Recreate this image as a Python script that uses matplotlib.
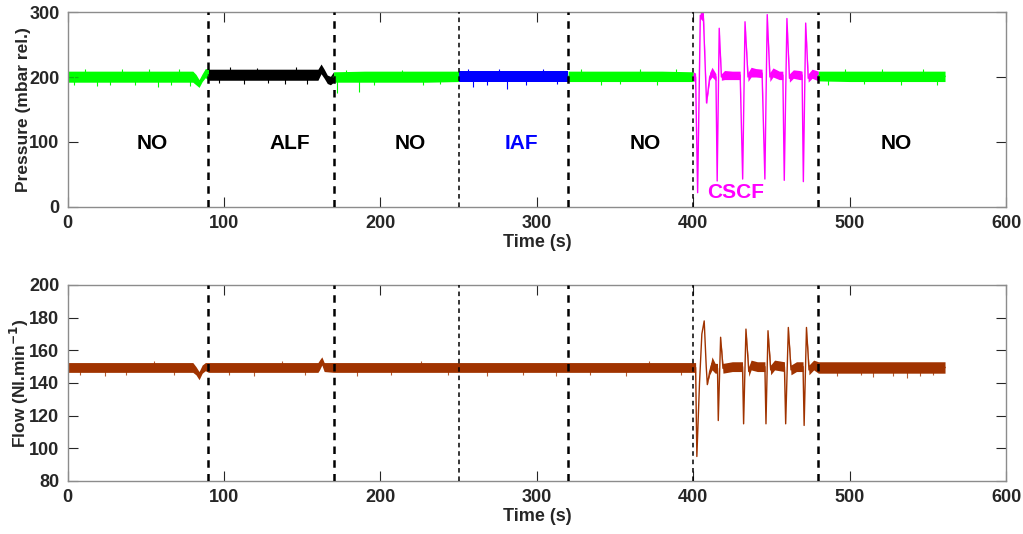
import numpy as np
import matplotlib.pyplot as plt

plt.rcParams['font.family'] = ['Liberation Sans', 'DejaVu Sans']
plt.rcParams['font.weight'] = 'bold'
plt.rcParams['mathtext.default'] = 'bf'

# phase boundaries (s), colours and labels
seg_edges = [0, 90, 170, 250, 320, 400, 480, 561]
seg_colors = ['#00ff00', '#000000', '#00ff00', '#0000ff', '#00ff00', '#ff00ff', '#00ff00']
seg_labels = ['NO', 'ALF', 'NO', 'IAF', 'NO', 'CSCF', 'NO']
label_t = [54, 142, 219, 290, 369, 427, 530]
label_y = [98, 98, 98, 98, 98, 22, 98]
dash_t = [90, 170, 250, 320, 400, 480]
dash_w = [1.8, 1.8, 1.1, 1.8, 1.1, 1.8]

# pressure (mbar rel.): time, mean trace, lower / upper edge of the noise band
t_p = [0, 20, 40, 60, 80, 82, 84, 86, 88,
       90, 110, 130, 150, 160, 162, 164, 166, 168,
       170, 190, 210, 230, 250, 270, 290, 310, 320, 340, 360, 380,
       400, 401.5, 402.8, 404.5, 406.5, 408.5, 410.5, 412, 414.5, 415.3, 416.6, 418, 420, 425, 430,
       431.6, 433.1, 435, 437, 440, 444, 445.8, 447.3, 449, 451, 455, 457.3, 458.2, 459.9,
       461.5, 464, 468, 469.6, 470.4, 471.9, 473.5, 476,
       480, 500, 520, 540, 561]
p_mid = [200, 200, 200, 200, 200, 197, 190, 198, 205,
         203, 203, 203, 203, 203, 212, 205, 196, 194,
         200, 200, 200, 200, 201, 201, 201, 201, 201, 201, 201, 201,
         201, 200, 22, 295, 290, 160, 200, 208, 200, 40, 275, 200, 203, 203, 203,
         43, 285, 200, 208, 207, 206, 43, 296, 200, 208, 203, 203, 41, 290,
         198, 205, 203, 203, 39, 283, 198, 205,
         202, 201, 201, 201, 201]
p_lo = [192, 192, 192, 192, 192, 188, 184, 193, 199,
        195, 195, 195, 195, 195, 205, 198, 190, 188,
        192, 192, 192, 192, 193, 193, 193, 193, 193, 193, 193, 193,
        193, 195, 22, 290, 285, 158, 195, 200, 194, 40, 275, 195, 196, 196, 196,
        43, 285, 193, 200, 200, 199, 43, 296, 193, 200, 196, 196, 41, 290,
        192, 198, 196, 196, 39, 283, 192, 198,
        194, 193, 193, 193, 193]
p_hi = [209, 209, 209, 209, 209, 204, 196, 205, 213,
        212, 212, 212, 212, 212, 220, 212, 203, 201,
        208, 209, 209, 209, 209, 209, 209, 209, 209, 209, 209, 209,
        208, 206, 22, 300, 300, 162, 207, 215, 205, 40, 275, 205, 210, 209, 209,
        43, 285, 207, 215, 213, 212, 43, 296, 207, 214, 209, 209, 41, 290,
        205, 211, 210, 209, 39, 283, 205, 212,
        209, 209, 209, 209, 209]
# isolated noise spikes seen outside the band
p_spk_t = [4, 11, 19, 27, 35, 43, 52, 58, 66, 71, 78, 97, 104, 113, 121, 128, 139, 146, 153, 172, 178,
           186, 196, 214, 227, 238, 256, 259, 268, 276, 281, 293, 304, 313, 328, 341, 353, 366, 377, 389,
           486, 497, 509, 521, 533, 547, 556]
p_spk_v = [187, 212, 186, 188, 213, 187, 212, 185, 188, 212, 186, 191, 215, 190, 214, 191, 189, 215, 190, 176, 211,
           177, 188, 211, 187, 189, 212, 184, 188, 213, 181, 188, 212, 189, 212, 188, 190, 213, 188, 212,
           188, 212, 189, 213, 187, 212, 188]

# flow (Nl/min): time, mean trace, lower / upper edge of the noise band
t_f = [0, 20, 40, 60, 80, 82, 84, 86, 88,
       90, 110, 130, 150, 160, 161, 162.5, 164,
       170, 190, 210, 230, 250, 270, 290, 310, 330, 350, 370, 390,
       400, 401.5, 402.3, 404, 405.5, 407, 408.3, 409, 410.5, 412, 414, 415.5, 416, 417.5, 419, 425,
       431.5, 432.2, 433.7, 435.5, 437, 441, 445.8, 446.5, 447.8, 449.5, 452, 458.3, 459.1, 460.8,
       462.5, 466, 470.2, 470.9, 472.4, 474, 477,
       480, 500, 520, 540, 561]
f_mid = [149.5, 149.5, 149.5, 149.5, 149.5, 147.5, 144, 148, 150,
         149.5, 149.5, 149.5, 149.5, 149.5, 151, 154, 150,
         149.5, 149.5, 149.5, 149.5, 149.5, 149.5, 149.5, 149.5, 149.5, 149.5, 149.5, 149.5,
         149.5, 149.5, 95, 140, 170, 178, 150, 139, 147, 152, 149, 149, 117, 168, 149, 150,
         150, 115, 173, 147, 151, 150, 150, 115, 172, 148, 151, 150, 115, 174,
         148, 150, 150, 114, 174, 148, 151,
         150, 149.5, 149.5, 149.5, 149.5]
f_lo = [146.5, 146.5, 146.5, 146.5, 146.5, 145, 142, 146, 147.5,
        146.5, 146.5, 146.5, 146.5, 146.5, 148, 151, 147,
        146.5, 146.5, 146.5, 146.5, 146.5, 146.5, 146.5, 146.5, 146.5, 146.5, 146.5, 146.5,
        146.5, 146.5, 95, 140, 170, 178, 150, 139, 145, 148, 146, 146, 117, 168, 146, 147,
        147, 115, 173, 144, 148, 147, 147, 115, 172, 145, 148, 147, 115, 174,
        145, 147, 147, 114, 174, 145, 148,
        146, 146, 146, 146, 146]
f_hi = [152.5, 152.5, 152.5, 152.5, 152.5, 150, 147, 151, 152.5,
        152.5, 152.5, 152.5, 152.5, 152.5, 154, 156, 152.5,
        152.5, 152.5, 152.5, 152.5, 152.5, 152.5, 152.5, 152.5, 152.5, 152.5, 152.5, 152.5,
        152.5, 152.5, 95, 140, 170, 178, 150, 139, 149, 156, 152, 152, 117, 168, 152, 153,
        153, 115, 173, 150, 154, 153, 153, 115, 172, 151, 154, 153, 115, 174,
        151, 153, 153, 114, 174, 151, 154,
        153, 153, 153, 153, 153]
f_spk_t = [8, 24, 37, 55, 68, 103, 119, 137, 152, 185, 207, 226, 243, 268, 291, 312, 334, 357, 372, 392,
           492, 507, 515, 528, 537, 545, 553]
f_spk_v = [145, 144.5, 145, 153.5, 145, 145, 144.5, 153.5, 145, 144.5, 145, 153.5, 145, 144.5, 145, 144.5,
           145, 144.5, 153.5, 145, 144.5, 145, 143.5, 144, 143, 144.5, 145]
flow_color = '#a03300'

txt = '#262626'
fig = plt.figure(figsize=(10.23, 5.34), dpi=100)
ax1 = fig.add_axes([0.0662, 0.6124, 0.9172, 0.3651])
ax2 = fig.add_axes([0.0662, 0.0993, 0.9172, 0.3670])

tp = np.array(t_p)
for a, b, c in zip(seg_edges[:-1], seg_edges[1:], seg_colors):
    m = (tp >= a) & (tp <= b)
    ax1.fill_between(tp[m], np.array(p_lo)[m], np.array(p_hi)[m], color=c, lw=0)
    ax1.plot(tp[m], np.array(p_mid)[m], color=c, lw=1)
for x, v in zip(p_spk_t, p_spk_v):
    c = seg_colors[np.searchsorted(seg_edges, x) - 1]
    ax1.vlines(x, 201, v, color=c, lw=0.8)

tf = np.array(t_f)
ax2.fill_between(tf, f_lo, f_hi, color=flow_color, lw=0)
ax2.plot(tf, f_mid, color=flow_color, lw=1)
ax2.vlines(f_spk_t, 149.5, f_spk_v, color=flow_color, lw=0.8, alpha=0.8)

for lab, x, y, c in zip(seg_labels, label_t, label_y, seg_colors):
    col = '#000000' if c == '#00ff00' else c
    ax1.text(x, y, lab, color=col, fontsize=15, fontweight='bold', ha='center', va='center')

for ax, lim, ticks in [(ax1, (0, 300), [0, 100, 200, 300]), (ax2, (80, 200), [80, 100, 120, 140, 160, 180, 200])]:
    for x, w in zip(dash_t, dash_w):
        ax.axvline(x, color='black', lw=w, ls=(0, (3, 2.5)), zorder=5)
    ax.set_xlim(0, 600)
    ax.set_ylim(*lim)
    ax.set_yticks(ticks)
    ax.set_xticks([0, 100, 200, 300, 400, 500, 600])
    ax.tick_params(direction='in', top=True, right=True, length=7, width=0.8,
                   labelsize=13, labelcolor=txt, color=txt, pad=6)
    for s in ax.spines.values():
        s.set_color('#8c8c8c')
        s.set_linewidth(1)
    for lbl in ax.get_xticklabels() + ax.get_yticklabels():
        lbl.set_fontweight('bold')
    ax.set_xlabel('Time (s)', fontsize=13, fontweight='bold', color=txt, labelpad=1)

ax1.set_ylabel('Pressure (mbar rel.)', fontsize=12.5, fontweight='bold', color=txt)
ax2.set_ylabel(r'Flow (Nl.min$^{-1}$)', fontsize=12.5, fontweight='bold', color=txt)
ax1.yaxis.set_label_coords(-0.039, 0.5)
ax2.yaxis.set_label_coords(-0.039, 0.5)

plt.savefig('out.png', dpi=100)
